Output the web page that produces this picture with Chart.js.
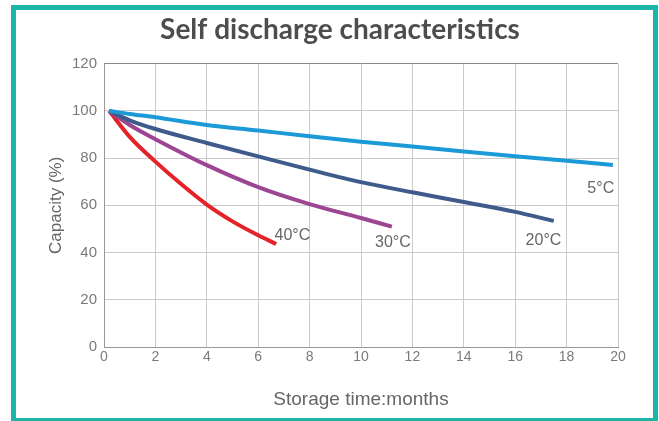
<!DOCTYPE html>
<html lang="en">
<head>
    <meta charset="UTF-8">
    <title>Self discharge characteristics</title>
    <script src="https://cdn.jsdelivr.net/npm/chart.js"></script>
    <style>
        body {
            margin: 0;
            background: #fff;
        }
        #wrap {
            position: relative;
            width: 659px;
            height: 421px;
            overflow: hidden;
        }
        #marco {
            position: absolute;
            left: 11px;
            top: 5px;
            width: 647px;
            height: 418px;
            box-sizing: border-box;
            border: 5px solid #1cb5a8;
            pointer-events: none;
        }
    </style>
</head>
<body>
    <div id="wrap">
        <canvas id="grafica" width="659" height="421"></canvas>
        <div id="marco"></div>
    </div>

    <script>
        // meses de almacenamiento y capacidad (%) de cada curva
        const months5 = [0.2, 1, 2, 4, 6, 8, 10, 12, 14, 16, 18, 19.8];
        const cap5 = [100, 98.7, 97.3, 94, 91.7, 89.2, 86.9, 84.9, 82.8, 80.8, 78.9, 77.1];

        const months20 = [0.2, 1, 2, 4, 6, 8, 10, 12, 14, 16, 17.5];
        const cap20 = [100, 96, 92.3, 86.4, 80.7, 75.1, 69.8, 65.5, 61.4, 57.2, 53.4];

        const months30 = [0.2, 1, 2, 4, 6, 8, 10, 11.2];
        const cap30 = [100, 94, 88, 77, 67.7, 60.5, 54.6, 51];

        const months40 = [0.2, 1, 2, 3, 4, 5, 6, 6.7];
        const cap40 = [100, 89, 78.5, 69, 60.3, 53.2, 47.3, 43.6];

        const seriesNames = ["5°C", "20°C", "30°C", "40°C"];
        const seriesColors = ["#1b9ad7", "#3f5b8c", "#9c4592", "#e52228"];
        // donde va cada etiqueta, en valores de los ejes
        const labelX = [19.33, 17.1, 11.24, 7.33];
        const labelY = [67, 45.1, 44.4, 47.1];

        function puntos(xs, ys) {
            return xs.map((x, i) => ({ x: x, y: ys[i] }));
        }

        const allData = [
            puntos(months5, cap5),
            puntos(months20, cap20),
            puntos(months30, cap30),
            puntos(months40, cap40)
        ];

        const etiquetas = {
            id: "etiquetas",
            afterDatasetsDraw(chart) {
                const ctx = chart.ctx;
                const xs = chart.scales.x;
                const ys = chart.scales.y;
                ctx.save();
                ctx.font = "16px 'Liberation Sans', Arial, sans-serif";
                ctx.fillStyle = "#666";
                ctx.textAlign = "center";
                ctx.textBaseline = "middle";
                seriesNames.forEach((n, i) => {
                    ctx.fillText(n, xs.getPixelForValue(labelX[i]), ys.getPixelForValue(labelY[i]));
                });
                ctx.restore();
            }
        };

        new Chart(document.getElementById("grafica"), {
            type: "line",
            data: {
                datasets: allData.map((d, i) => ({
                    label: seriesNames[i],
                    data: d,
                    borderColor: seriesColors[i],
                    borderWidth: 4,
                    pointRadius: 0,
                    fill: false,
                    cubicInterpolationMode: "monotone"
                }))
            },
            options: {
                responsive: false,
                animation: false,
                layout: { padding: { left: 21, right: 0, top: 0, bottom: 0 } },
                plugins: {
                    legend: { display: false },
                    tooltip: { enabled: false },
                    title: {
                        display: true,
                        text: "Self discharge characteristics",
                        color: "#4d4d4d",
                        font: { family: "Lato, sans-serif", size: 28, weight: "bold" },
                        padding: { top: 13, bottom: 17 }
                    }
                },
                scales: {
                    x: {
                        type: "linear",
                        min: 0,
                        max: 20,
                        ticks: {
                            stepSize: 2,
                            padding: 2,
                            color: "#7a7a7a",
                            font: { family: "'Liberation Sans', Arial", size: 14 }
                        },
                        grid: { color: "#cacaca", drawTicks: false },
                        border: { color: "#999", width: 1 },
                        title: {
                            display: true,
                            text: "Storage time:months",
                            color: "#666",
                            font: { family: "'Liberation Sans', Arial", size: 19 },
                            padding: { top: 0, bottom: 10 }
                        },
                        afterFit(s) { s.height = 74; }
                    },
                    y: {
                        min: 0,
                        max: 120,
                        ticks: {
                            stepSize: 20,
                            padding: 7,
                            color: "#7a7a7a",
                            font: { family: "'Liberation Sans', Arial", size: 15 }
                        },
                        grid: {
                            color: c => c.tick && c.tick.value === 120 ? "#8a8a8a" : "#cacaca",
                            drawTicks: false
                        },
                        border: { color: "#999", width: 1 },
                        title: {
                            display: true,
                            text: "Capacity (%)",
                            color: "#666",
                            font: { family: "'Liberation Sans', Arial", size: 17 },
                            padding: { top: 25, bottom: 0 }
                        },
                        afterFit(s) { s.width = 83; }
                    },
                    derecha: {
                        type: "linear",
                        position: "right",
                        display: true,
                        ticks: { display: false },
                        grid: { display: false, drawTicks: false },
                        border: { display: false },
                        afterFit(s) { s.width = 41; }
                    }
                }
            },
            plugins: [etiquetas]
        });
    </script>
</body>
</html>
